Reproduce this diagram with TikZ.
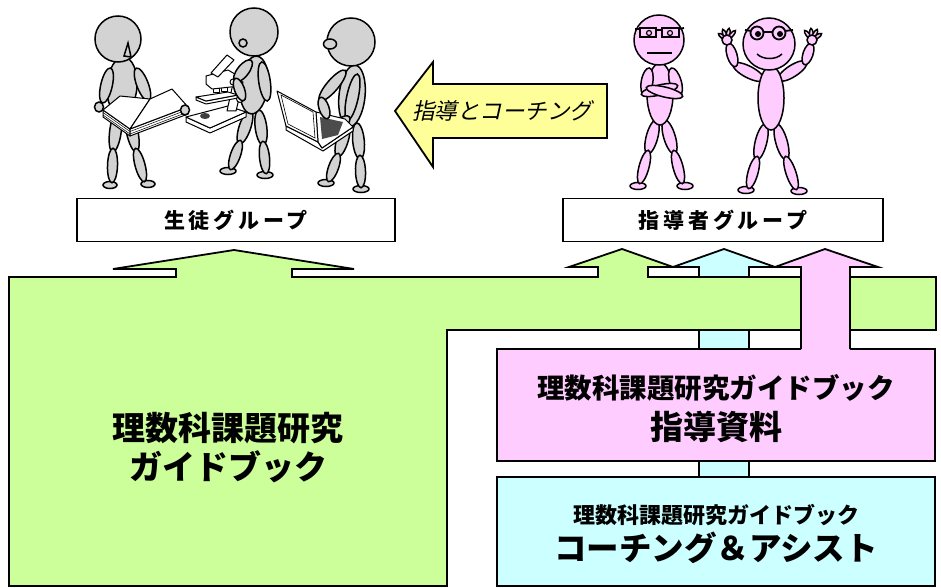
\documentclass[tikz,border=0pt]{standalone}
\usepackage{fontspec}
\newfontfamily\jpfont{Noto Sans CJK JP}
\newfontfamily\jpwide[LetterSpace=18]{Noto Sans CJK JP}
\newfontfamily\jpslant[FakeSlant=0.22]{Noto Sans CJK JP}

\definecolor{gbox}{HTML}{CCFF99}
\definecolor{cbox}{HTML}{CCFFFF}
\definecolor{pbox}{HTML}{FFCCFF}
\definecolor{ybox}{HTML}{FFFF99}
\definecolor{stugrey}{HTML}{D3D3D3}
\definecolor{teapink}{HTML}{FFCCFF}
\colorlet{figfill}{stugrey}

% one limb segment: an ellipse stretched from (#1,#2) to (#3,#4), half width #5
\newcommand{\figlimb}[5]{%
  \pgfmathsetmacro{\lmcx}{(#1+#3)/2}%
  \pgfmathsetmacro{\lmcy}{(#2+#4)/2}%
  \pgfmathsetmacro{\lmang}{atan2(#2-#4,#3-#1)}%
  \pgfmathsetmacro{\lmlen}{veclen(#3-#1,#4-#2)/2+#5*0.35}%
  \path[figpart, shift={(\lmcx,\lmcy)}, rotate=\lmang] (0,0) ellipse[x radius=\lmlen pt, y radius=#5 pt];%
}

\tikzset{
  figpart/.style={fill=figfill, draw=black, line width=1.5pt},
  gear/.style={fill=white, draw=black, line width=1pt, line join=round},
  blockline/.style={draw=black, line width=1.8pt, line join=miter},
  labelbox/.style={draw=black, fill=white, line width=1.8pt, inner sep=0pt,
                   minimum width=318pt, minimum height=43pt},
  bigbox/.style={draw=black, line width=1.8pt, inner sep=0pt, minimum width=438pt},
  txt/.style={inner sep=0pt, text=black},
}

\begin{document}
\begin{tikzpicture}[x=1pt,y=-1pt]
\useasboundingbox (0,0) rectangle (941,588);

% ================= students =================
\colorlet{figfill}{stugrey}
% --- reader with a book ---
\path[figpart] (110,185) ellipse[x radius=7pt, y radius=3.5pt];
\path[figpart] (148,184) ellipse[x radius=7pt, y radius=3.5pt];
\figlimb{118}{112}{113}{150}{5.8}
\figlimb{113}{150}{112}{181}{5}
\figlimb{128}{112}{136}{150}{5.8}
\figlimb{136}{150}{144}{180}{5}
\path[figpart, shift={(122,86)}, rotate=-4] (0,0) ellipse[x radius=15pt, y radius=29pt];
\figlimb{110}{70}{103}{101}{5.8}
\figlimb{137}{70}{148}{99}{5.8}
% book
\path[gear] (103,110) -- (130,129) -- (130,136) -- (103,117) -- cycle;
\path[gear] (130,129) -- (188,107) -- (188,114) -- (130,136) -- cycle;
\draw[line width=0.5pt] (103,112.5) -- (130,131.5) -- (188,109.5) (103,115) -- (130,134) -- (188,112);
\path[gear] (103,110) -- (120,96) -- (150,99) -- (130,129) -- cycle;
\path[gear] (150,99) -- (172,89) -- (188,107) -- (130,129) -- cycle;
\path[figpart] (99,107) ellipse[x radius=4.5pt, y radius=5pt];
\path[figpart] (185,110) ellipse[x radius=4.5pt, y radius=5pt];
\path[figpart] (118,39) circle[radius=23pt];
\path[figpart] (128,43) -- (131,57) -- (124,56) -- cycle;

% --- student at the microscope ---
\path[figpart] (228,171) ellipse[x radius=8pt, y radius=3.5pt];
\path[figpart] (265,175) ellipse[x radius=8pt, y radius=3.5pt];
\figlimb{250}{112}{240}{142}{5.8}
\figlimb{240}{142}{231}{168}{5}
\figlimb{259}{112}{263}{143}{5.8}
\figlimb{263}{143}{266}{172}{5}
\path[figpart, shift={(254,85)}, rotate=-6] (0,0) ellipse[x radius=14pt, y radius=29pt];
\figlimb{262}{64}{267}{99}{5.8}
% microscope
\path[gear] (186,117) -- (186,122) -- (210,133) -- (246,117) -- (246,112) -- (210,128) -- cycle;
\path[gear] (186,117) -- (228,106) -- (246,112) -- (210,128) -- cycle;
\path[fill=black!75] (205,116) ellipse[x radius=5pt, y radius=3pt];
\path[gear] (227,111) -- (236,111) -- (243,82) -- (234,79) -- cycle;
\path[gear] (196,97) -- (196,100) -- (206,104) -- (238,98) -- (238,95) -- (206,101) -- cycle;
\path[gear] (196,97) -- (228,92) -- (238,95) -- (206,101) -- cycle;
\path[gear] (213,86) rectangle (219,93);
\path[gear] (221,85) rectangle (227,92);
\path[gear] (206,76) -- (228,70) -- (240,77) -- (240,86) -- (212,89) -- (206,84) -- cycle;
\path[gear] (211,73) -- (227,55) -- (234,60) -- (218,77) -- cycle;
\path[gear] (240,99) circle[radius=3.5pt];
\path[gear] (233,82) circle[radius=3pt];
\figlimb{250}{62}{236}{80}{5.8}
\figlimb{236}{80}{243}{99}{5}
\path[figpart] (254,32) circle[radius=24pt];
\path[figpart] (243,43) circle[radius=4pt];

% --- student with a laptop ---
\path[figpart] (326,183) ellipse[x radius=8pt, y radius=3.5pt];
\path[figpart] (361,189) ellipse[x radius=8pt, y radius=3.5pt];
\figlimb{347}{125}{338}{155}{5.8}
\figlimb{338}{155}{329}{180}{5}
\figlimb{357}{125}{360}{157}{5.8}
\figlimb{360}{157}{361}{186}{5}
\path[figpart, shift={(352,96)}, rotate=-6] (0,0) ellipse[x radius=13pt, y radius=31pt];
\figlimb{357}{76}{348}{118}{5.8}
\figlimb{348}{118}{336}{128}{5}
% laptop
\path[gear] (286,126) -- (318,142) -- (322,148) -- (353,127) -- (353,131) -- (323,151) -- (286,130) -- cycle;
\path[gear] (316,112) -- (345,119) -- (353,127) -- (322,148) -- (318,142) -- cycle;
\path[fill=black!70] (320,117) -- (343,122) -- (338,135) -- (322,139) -- cycle;
\path[gear] (277,91) -- (316,112) -- (318,142) -- (286,126) -- cycle;
\draw[line width=0.6pt] (281,95) -- (313,112) -- (315,138) -- (288,124) -- cycle;
\figlimb{344}{72}{321}{99}{5.8}
\figlimb{321}{99}{327}{117}{5}
\path[figpart] (351,42) circle[radius=24pt];
\path[figpart] (330,44) ellipse[x radius=6.5pt, y radius=5pt];

% ================= teachers =================
\colorlet{figfill}{teapink}
% --- teacher with crossed arms ---
\path[figpart] (638,186) ellipse[x radius=8pt, y radius=3.5pt];
\path[figpart] (685,186) ellipse[x radius=8pt, y radius=3.5pt];
\figlimb{656}{122}{648}{152}{5.8}
\figlimb{648}{152}{640}{182}{5}
\figlimb{665}{122}{674}{152}{5.8}
\figlimb{674}{152}{682}{182}{5}
\path[figpart] (660,94) ellipse[x radius=13pt, y radius=31pt];
\figlimb{649}{70}{645}{94}{5.8}
\figlimb{672}{70}{679}{94}{5.8}
\figlimb{643}{94}{676}{86}{5}
\figlimb{681}{96}{648}{88}{5}
\path[figpart] (659,40) circle[radius=25pt];
\draw[line width=1.8pt] (640,28) rectangle (656,37) (662,28) rectangle (679,37)
  (635,29) -- (640,29) (656,30) -- (662,30) (679,29) -- (684,28);
\draw[line width=1.2pt] (649,33) circle[radius=2.5pt] (670,33) circle[radius=2.5pt];
\draw[line width=1.3pt] (647,53) -- (672,53);

% --- cheering teacher ---
\path[figpart] (746,190) ellipse[x radius=8pt, y radius=3.5pt];
\path[figpart] (799,191) ellipse[x radius=8pt, y radius=3.5pt];
\figlimb{765}{126}{757}{158}{5.8}
\figlimb{757}{158}{749}{187}{5}
\figlimb{777}{126}{786}{158}{5.8}
\figlimb{786}{158}{796}{188}{5}
\figlimb{762}{79}{735}{65}{5.8}
\figlimb{735}{65}{729}{45}{5}
\figlimb{780}{79}{805}{63}{5.8}
\figlimb{805}{63}{811}{45}{5}
\path[figpart] (771,98) ellipse[x radius=13pt, y radius=32pt];
% hands
\figlimb{727}{40}{719}{34}{1.8}
\figlimb{727}{40}{723}{30}{1.8}
\figlimb{727}{40}{729}{29}{1.8}
\figlimb{727}{40}{735}{31}{1.8}
\path[figpart] (727,40) circle[radius=5pt];
\figlimb{812}{40}{805}{31}{1.8}
\figlimb{812}{40}{811}{29}{1.8}
\figlimb{812}{40}{817}{30}{1.8}
\figlimb{812}{40}{821}{34}{1.8}
\path[figpart] (812,40) circle[radius=5pt];
\path[figpart] (769,44) circle[radius=26pt];
\draw[line width=1.8pt] (757,33) circle[radius=6.5pt] (779,33) circle[radius=6.5pt]
  (745,30) -- (751,31) (763,32) -- (773,32) (785,31) -- (793,30);
\fill (758,34) circle[radius=3pt] (780,34) circle[radius=3pt];
\draw[line width=1.5pt] (757,54) .. controls (763,60) and (776,60) .. (782,54);

% ================= labels of the two groups =================
\node[labelbox] (student) at (236,220) {\jpwide\bfseries\fontsize{21}{24}\selectfont 生徒グループ};
\node[labelbox, minimum width=320pt] (teacher) at (723,220) {\jpwide\bfseries\fontsize{21}{24}\selectfont 指導者グループ};

% ================= guidance arrow =================
\path[blockline, fill=ybox] (395,111) -- (433,62) -- (433,84) -- (607,84) -- (607,138) -- (433,138) -- (433,167) -- cycle;
\node[txt] (guidance) at (502,111) {\jpslant\fontsize{22.5}{24}\selectfont 指導とコーチング};

% ================= block arrows and books =================
% coaching arrow (behind everything else)
\path[blockline, fill=cbox] (699,480) -- (699,267) -- (673,267) -- (724,249) -- (775,267) -- (749,267) -- (749,480);
% guide book with its two arrows
\path[blockline, fill=gbox] (9,586) -- (9,277) -- (176,277) -- (176,269) -- (113,269) -- (234,250)
  -- (354,269) -- (292,269) -- (292,277) -- (598,277) -- (598,267) -- (569,267) -- (622,249)
  -- (673,267) -- (648,267) -- (648,277) -- (936,277) -- (936,330) -- (447,330) -- (447,586) -- cycle;
\node[txt] (guide) at (228,428) {\jpfont\bfseries\fontsize{33}{36}\selectfont 理数科課題研究};
\node[txt] (guidesub) at (228,467) {\jpfont\bfseries\fontsize{33}{36}\selectfont ガイドブック};

% teaching material and coaching books
\node[bigbox, fill=pbox, minimum height=112pt] (manual) at (716,405) {};
\node[bigbox, fill=cbox, minimum height=109pt] (coach) at (716,531.5) {};
\node[txt] (manualtop) at (716,388) {\jpfont\bfseries\fontsize{27.5}{30}\selectfont 理数科課題研究ガイドブック};
\node[txt] (manualmain) at (716,427) {\jpfont\bfseries\fontsize{33}{36}\selectfont 指導資料};
\node[txt] (coachtop) at (716,515) {\jpfont\bfseries\fontsize{22}{24}\selectfont 理数科課題研究ガイドブック};
\node[txt] (coachmain) at (716,548) {\jpfont\bfseries\fontsize{32.5}{36}\selectfont コーチング＆アシスト};

% teaching material arrow, rising out of its book
\path[fill=pbox] (801,352) -- (801,267) -- (775,267) -- (825,249) -- (878,267) -- (850,267) -- (850,352) -- cycle;
\path[blockline] (801,349) -- (801,267) -- (775,267) -- (825,249) -- (878,267) -- (850,267) -- (850,349);
\end{tikzpicture}
\end{document}
